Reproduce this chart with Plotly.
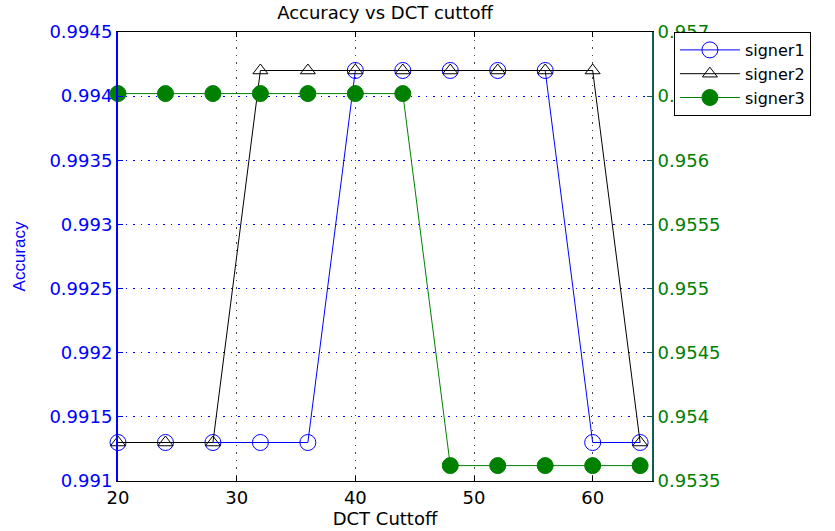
import plotly.graph_objects as go

dct_cutoff = [20, 24, 28, 32, 36, 40, 44, 48, 52, 56, 60, 64]
signer1 = [0.9913, 0.9913, 0.9913, 0.9913, 0.9913, 0.9942, 0.9942, 0.9942, 0.9942, 0.9942, 0.9913, 0.9913]
signer2 = [0.9913, 0.9913, 0.9913, 0.9942, 0.9942, 0.9942, 0.9942, 0.9942, 0.9942, 0.9942, 0.9942, 0.9913]
signer3 = [0.95652, 0.95652, 0.95652, 0.95652, 0.95652, 0.95652, 0.95652, 0.95362, 0.95362, 0.95362, 0.95362, 0.95362]

left_ticks = [0.991, 0.9915, 0.992, 0.9925, 0.993, 0.9935, 0.994, 0.9945]
left_labels = ["0.991", "0.9915", "0.992", "0.9925", "0.993", "0.9935", "0.994", "0.9945"]
right_ticks = [0.9535, 0.954, 0.9545, 0.955, 0.9555, 0.956, 0.9565, 0.957]
right_labels = ["0.9535", "0.954", "0.9545", "0.955", "0.9555", "0.956", "0.9565", "0.957"]
x_ticks = [20, 30, 40, 50, 60]

BLUE = "#0000FF"
GREEN = "#008000"
FONT = "DejaVu Sans"

fig = go.Figure()
fig.add_trace(go.Scatter(
    x=dct_cutoff, y=signer1, name="signer1", mode="lines+markers",
    line=dict(color=BLUE, width=1),
    marker=dict(symbol="circle-open", size=16, color=BLUE, line=dict(width=1, color=BLUE)),
    cliponaxis=False, yaxis="y"))
fig.add_trace(go.Scatter(
    x=dct_cutoff, y=signer2, name="signer2", mode="lines+markers",
    line=dict(color="black", width=1),
    marker=dict(symbol="triangle-up-open", size=13, color="black", line=dict(width=1, color="black")),
    cliponaxis=False, yaxis="y"))
fig.add_trace(go.Scatter(
    x=dct_cutoff, y=signer3, name="signer3", mode="lines+markers",
    line=dict(color=GREEN, width=1),
    marker=dict(symbol="circle", size=16, color=GREEN, line=dict(width=1, color=GREEN)),
    cliponaxis=False, yaxis="y2"))

fig.update_layout(
    width=835, height=531,
    margin=dict(l=118, r=183, t=32, b=50, autoexpand=False),
    paper_bgcolor="white", plot_bgcolor="white",
    font=dict(family=FONT, size=18, color="black"),
    title=dict(text="Accuracy vs DCT cuttoff", x=0.5, xref="paper", xanchor="center",
               y=1 - 13 / 531, yref="container", yanchor="middle",
               font=dict(family=FONT, size=18, color="black")),
    xaxis=dict(range=[20, 65], tickvals=x_ticks, ticks="inside", ticklen=5, tickcolor="black",
               showline=True, linecolor="black", linewidth=1, mirror="ticks",
               showgrid=True, gridcolor="#444444", griddash="1.5px,6px", gridwidth=1,
               zeroline=False, tickfont=dict(size=18, color="black"), automargin=False,
               title=dict(text="DCT Cuttoff", font=dict(size=18, color="black"), standoff=0)),
    yaxis=dict(range=[0.991, 0.9945], tickvals=left_ticks, ticktext=left_labels,
               ticks="inside", ticklen=5, tickcolor=BLUE,
               showline=True, linecolor=BLUE, linewidth=2, automargin=False,
               showgrid=True, gridcolor=BLUE, griddash="1.5px,6px", gridwidth=1,
               zeroline=False, tickfont=dict(size=18, color=BLUE),
               title=dict(text="Accuracy", font=dict(family="Liberation Sans", size=17, color=BLUE), standoff=19)),
    yaxis2=dict(range=[0.9535, 0.957], tickvals=right_ticks, ticktext=right_labels,
                overlaying="y", side="right", anchor="x", automargin=False,
                ticks="inside", ticklen=5, tickcolor="#0d5e55",
                showline=True, linecolor="#0d5e55", linewidth=2,
                showgrid=False, zeroline=False, tickfont=dict(size=18, color=GREEN)),
    legend=dict(x=1.041, xanchor="left", y=1, yanchor="top",
                bgcolor="white", bordercolor="black", borderwidth=1,
                font=dict(family=FONT, size=16, color="black"),
                tracegroupgap=0, itemwidth=60),
    showlegend=True,
)

fig.write_html("out.html", config={"displayModeBar": False},
               post_script="document.body.style.margin='0';document.body.style.padding='0';")
